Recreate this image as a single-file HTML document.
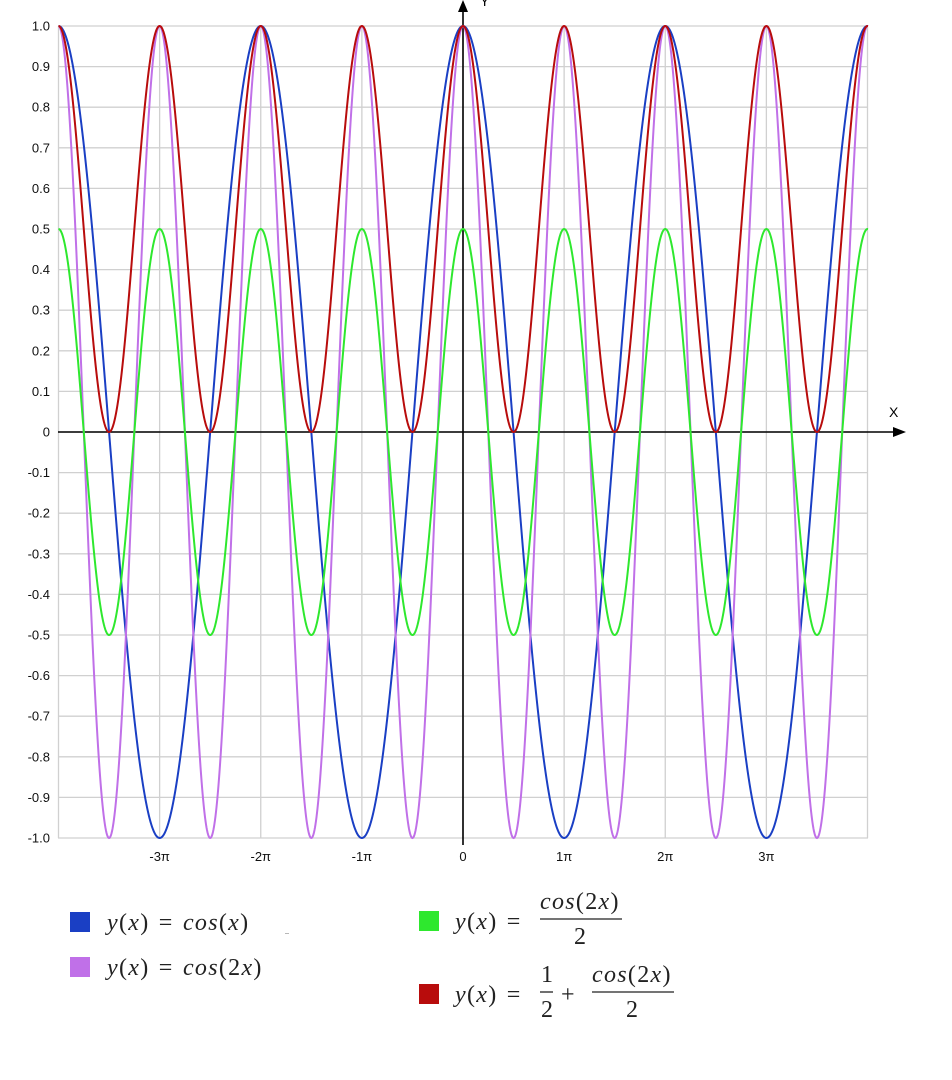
<!DOCTYPE html>
<html><head><meta charset="utf-8"><style>
body{margin:0;background:#fff;width:952px;height:1080px;overflow:hidden}
svg{position:absolute;left:0;top:0}
.m{font-family:"Liberation Serif",serif;font-size:24px;fill:#222;letter-spacing:1.3px;word-spacing:2px}
.i{font-style:italic}
</style></head><body>
<svg id="s" width="952" height="1080" xmlns="http://www.w3.org/2000/svg">
<g id="grid" stroke="#d0d0d0" stroke-width="1.3"></g>
<g id="lbl" font-family="Liberation Sans,sans-serif" font-size="13" fill="#111"></g>
<line x1="463" y1="845" x2="463" y2="6" stroke="#000" stroke-width="1.6"/>
<polygon points="463,0 458,12 468,12" fill="#000"/>
<text x="480" y="6" font-family="Liberation Sans,sans-serif" font-size="14">Y</text>
<line x1="58" y1="432" x2="895" y2="432" stroke="#000" stroke-width="1.6"/>
<polygon points="906,432 893,427 893,437" fill="#000"/>
<text x="889" y="417" font-family="Liberation Sans,sans-serif" font-size="14">X</text>
<g id="curves" fill="none" stroke-width="2"></g>
<rect x="70" y="912" width="20" height="20" fill="#1a3fc4"/>
<text x="107" y="930" class="m"><tspan class="i">y</tspan>(<tspan class="i">x</tspan>) = <tspan class="i">cos</tspan>(<tspan class="i">x</tspan>)</text>
<rect x="70" y="957" width="20" height="20" fill="#c070e8"/>
<text x="107" y="975" class="m"><tspan class="i">y</tspan>(<tspan class="i">x</tspan>) = <tspan class="i">cos</tspan>(2<tspan class="i">x</tspan>)</text>
<rect x="419" y="911" width="20" height="20" fill="#2ee82e"/>
<text x="455" y="929" class="m"><tspan class="i">y</tspan>(<tspan class="i">x</tspan>) =</text>
<text x="540" y="909" class="m"><tspan class="i">cos</tspan>(2<tspan class="i">x</tspan>)</text>
<line x1="540" y1="919" x2="622" y2="919" stroke="#222" stroke-width="1.3"/>
<text x="574" y="944" class="m">2</text>
<rect x="419" y="984" width="20" height="20" fill="#b80c0c"/>
<text x="455" y="1002" class="m"><tspan class="i">y</tspan>(<tspan class="i">x</tspan>) =</text>
<text x="541" y="982" class="m">1</text>
<line x1="540" y1="992" x2="553" y2="992" stroke="#222" stroke-width="1.3"/>
<text x="541" y="1017" class="m">2</text>
<text x="561" y="1002" class="m">+</text>
<text x="592" y="982" class="m"><tspan class="i">cos</tspan>(2<tspan class="i">x</tspan>)</text>
<line x1="592" y1="992" x2="674" y2="992" stroke="#222" stroke-width="1.3"/>
<text x="626" y="1017" class="m">2</text>
<text x="285" y="934" font-size="8" fill="#444">..</text>
</svg>
<script>
var ns="http://www.w3.org/2000/svg",X0=463,P=101.125,Y0=432,U=406;
function el(p,t,a,txt){var e=document.createElementNS(ns,t);for(var k in a)e.setAttribute(k,a[k]);if(txt!==undefined)e.textContent=txt;document.getElementById(p).appendChild(e);}
for(var i=-10;i<=10;i++){var y=Y0-i*U/10;el("grid","line",{x1:58,x2:868,y1:y,y2:y});
el("lbl","text",{x:50,y:y+4.5,"text-anchor":"end"},i==0?"0":(i/10).toFixed(1));}
for(var k=-4;k<=4;k++){var x=X0+k*P;el("grid","line",{x1:x,x2:x,y1:26,y2:838});
if(Math.abs(k)<4)el("lbl","text",{x:x,y:861,"text-anchor":"middle"},k==0?"0":k+"π");}
var fs=[["#1a3fc4",function(t){return Math.cos(t)}],["#c070e8",function(t){return Math.cos(2*t)}],["#2ee82e",function(t){return Math.cos(2*t)/2}],["#b80c0c",function(t){return .5+Math.cos(2*t)/2}]];
fs.forEach(function(f){var pts=[];for(var px=58.5;px<=868;px+=0.5){var t=(px-X0)/P*Math.PI;pts.push(px.toFixed(1)+","+(Y0-f[1](t)*U).toFixed(2));}
el("curves","polyline",{points:pts.join(" "),stroke:f[0]});});
</script>
</body></html>
